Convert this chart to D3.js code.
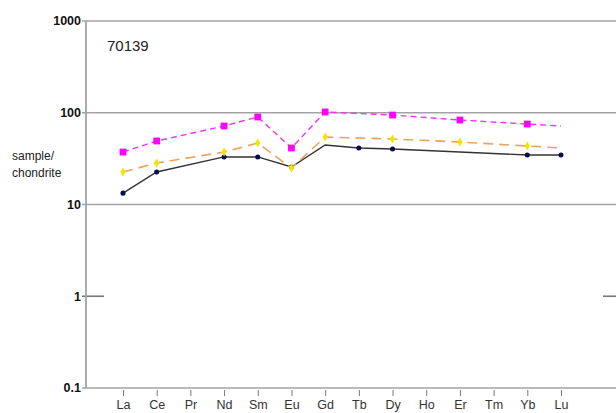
<!DOCTYPE html>
<html>
<head>
<meta charset="utf-8">
<script src="https://cdn.jsdelivr.net/npm/d3@7"></script>
<style>
  body { margin: 0; background: #fff; }
  svg { font-family: Arial, "Liberation Sans", sans-serif; }
</style>
</head>
<body>
<svg id="chart" width="616" height="413"></svg>
<script>
// REE elements along the x axis
var elements = ["La", "Ce", "Pr", "Nd", "Sm", "Eu", "Gd", "Tb", "Dy", "Ho", "Er", "Tm", "Yb", "Lu"];
var yTicks = [0.1, 1, 10, 100, 1000];
var yTickLabels = ["0.1", "1", "10", "100", "1000"];

// chondrite-normalised values, null = not measured
var magentaValues = [37.3, 49.2, null, 71.7, 89.9, 41.3, 102, null, 94.4, null, 83.3, null, 75.4, 71.7];
var orangeValues  = [22.6, 28.3, null, 37.3, 46.8, 25.0, 54.4, null, 51.7, null, 48.0, null, 43.4, 41.3];
var blackValues   = [13.3, 22.6, null, 33.0, 33.0, 25.6, 44.5, 41.3, 40.3, null, null, null, 34.6, 34.6];

// points shown without a marker
var magentaNoMark = ["Lu"];
var orangeNoMark  = ["Lu"];
var blackNoMark   = ["Gd"];

var svg = d3.select("#chart");
var plotLeft = 86, plotRight = 616, plotTop = 21, plotBottom = 388;

var x = d3.scalePoint().domain(elements).range([123, 561]);
var y = d3.scaleLog().domain([0.1, 1000]).range([plotBottom, plotTop]);

var gridColor = "#a3a3a3";

// horizontal grid lines
svg.selectAll(".grid")
    .data([10, 100, 1000])
    .enter().append("line")
    .attr("x1", 82).attr("x2", plotRight)
    .attr("y1", function (d) { return y(d); })
    .attr("y2", function (d) { return y(d); })
    .attr("stroke", gridColor).attr("stroke-width", 1.6);

// the 1 line only shows at the edges
svg.append("line").attr("x1", 82).attr("x2", 104).attr("y1", y(1)).attr("y2", y(1))
    .attr("stroke", "#777").attr("stroke-width", 1.6);
svg.append("line").attr("x1", 603).attr("x2", plotRight).attr("y1", y(1)).attr("y2", y(1))
    .attr("stroke", "#777").attr("stroke-width", 1.6);

// axes lines
svg.append("line").attr("x1", plotLeft).attr("x2", plotLeft).attr("y1", plotTop).attr("y2", plotBottom)
    .attr("stroke", gridColor).attr("stroke-width", 1.8);
svg.append("line").attr("x1", 82).attr("x2", plotRight).attr("y1", plotBottom).attr("y2", plotBottom)
    .attr("stroke", gridColor).attr("stroke-width", 1.6);

// y tick labels
svg.selectAll(".ylab")
    .data(yTicks)
    .enter().append("text")
    .attr("x", 81)
    .attr("y", function (d) { return y(d); })
    .attr("dy", "0.35em")
    .attr("text-anchor", "end")
    .attr("font-size", 12.5)
    .attr("font-weight", "bold")
    .attr("fill", "#111")
    .text(function (d, i) { return yTickLabels[i]; });

// x ticks and labels
var xAxis = d3.axisBottom(x).tickSize(6).tickPadding(4);
var gx = svg.append("g").attr("transform", "translate(0," + (plotBottom + 2) + ")").call(xAxis);
gx.select(".domain").remove();
gx.selectAll(".tick line").attr("stroke", "#777").attr("stroke-width", 1);
gx.selectAll(".tick text").attr("font-size", 12.5).attr("fill", "#333")
    .attr("font-family", "Arial, 'Liberation Sans', sans-serif");

// titles
svg.append("text").attr("x", 107).attr("y", 51).attr("font-size", 15).attr("fill", "#222").text("70139");
svg.append("text").attr("x", 12).attr("y", 160).attr("font-size", 12).attr("fill", "#222").text("sample/");
svg.append("text").attr("x", 12).attr("y", 177).attr("font-size", 12).attr("fill", "#222").text("chondrite");

function pts(values) {
    return elements.map(function (e, i) { return {e: e, v: values[i]}; })
        .filter(function (d) { return d.v !== null; });
}

var line = d3.line()
    .x(function (d) { return x(d.e); })
    .y(function (d) { return y(d.v); });

function drawSeries(values, noMark, color, width, dash, markColor, symbol, size) {
    var data = pts(values);
    svg.append("path")
        .datum(data)
        .attr("d", line)
        .attr("fill", "none")
        .attr("stroke", color)
        .attr("stroke-width", width)
        .attr("stroke-dasharray", dash);
    svg.selectAll(null)
        .data(data.filter(function (d) { return noMark.indexOf(d.e) < 0; }))
        .enter().append("path")
        .attr("transform", function (d) { return "translate(" + x(d.e) + "," + y(d.v) + ")"; })
        .attr("d", d3.symbol().type(symbol).size(size))
        .attr("fill", markColor);
}

drawSeries(blackValues, blackNoMark, "#333", 1.4, null, "#0a0a50", d3.symbolCircle, 20);
drawSeries(orangeValues, orangeNoMark, "#e8a35c", 1.6, "10,6", "#f2e600", d3.symbolDiamond, 24);
drawSeries(magentaValues, magentaNoMark, "#ee33ee", 1.4, "6,4", "#ff00ff", d3.symbolSquare, 46);
</script>
</body>
</html>
